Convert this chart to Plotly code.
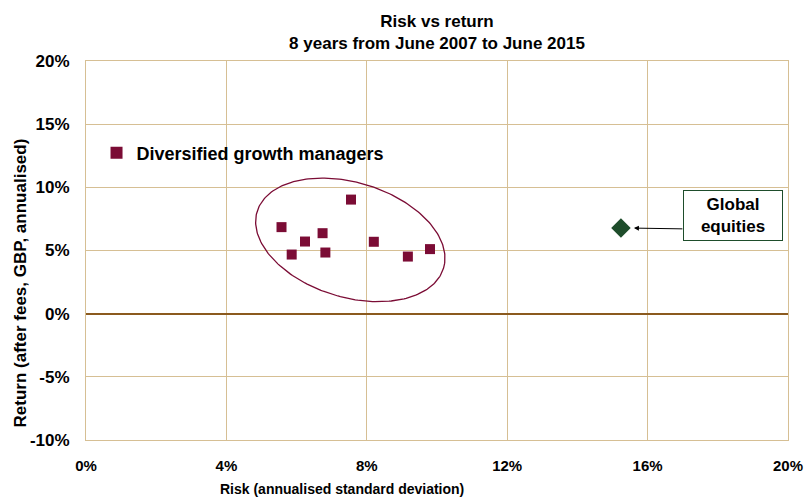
import numpy as np
import plotly.graph_objects as go

# Data (risk %, return %)
dgm_risk = [5.57, 5.86, 6.24, 6.74, 6.82, 7.55, 8.20, 9.17, 9.80]
dgm_return = [6.85, 4.68, 5.71, 6.37, 4.84, 9.03, 5.69, 4.52, 5.11]
eq_risk = [15.24]
eq_return = [6.79]
x_ticks = [0, 4, 8, 12, 16, 20]
y_ticks = [-10, -5, 0, 5, 10, 15, 20]

# Ellipse annotation: center (data units), semi-axes (px) and tilt
ell_cx, ell_cy = 7.53, 5.84
ell_a, ell_b = 97.5, 57.4
ell_ang = np.deg2rad(16.95)
PX_PER_X = 702.6 / 20
PX_PER_Y = 379.3 / 30

t = np.linspace(0, 2 * np.pi, 240)
px_x = ell_a * np.cos(ell_ang) * np.cos(t) - ell_b * np.sin(ell_ang) * np.sin(t)
px_y = ell_a * np.sin(ell_ang) * np.cos(t) + ell_b * np.cos(ell_ang) * np.sin(t)
ex = ell_cx + px_x / PX_PER_X
ey = ell_cy - px_y / PX_PER_Y

FONT = "Liberation Sans, Arial, sans-serif"
GRID = "#D6BF94"

fig = go.Figure()
fig.add_trace(go.Scatter(x=ex, y=ey, mode="lines", line=dict(color="#7B0C35", width=1.3),
                         showlegend=False, hoverinfo="skip"))
fig.add_trace(go.Scatter(x=dgm_risk, y=dgm_return, mode="markers",
                         name="<b>Diversified growth managers</b>",
                         marker=dict(symbol="square", size=10, color="#7B0C35")))
fig.add_trace(go.Scatter(x=eq_risk, y=eq_return, mode="markers", name="Global equities",
                         showlegend=False,
                         marker=dict(symbol="diamond", size=15, color="#1E4D2B")))

fig.update_layout(
    width=809, height=500,
    margin=dict(l=86, r=21, t=61, b=60),
    paper_bgcolor="white", plot_bgcolor="white",
    font=dict(family=FONT, size=16, color="black"),
    title=dict(text="<b>Risk vs return<br>8 years from June 2007 to June 2015</b>",
               x=0.5, xref="paper", y=0.946, yanchor="top",
               font=dict(size=17, family=FONT)),
    showlegend=True,
    legend=dict(x=0.015, y=0.757, xanchor="left", yanchor="middle",
                bgcolor="rgba(0,0,0,0)", font=dict(size=18, family=FONT),
                itemsizing="constant", itemwidth=30),
    xaxis=dict(range=[0, 20], tickvals=x_ticks, ticktext=[f"<b>{v}%</b>" for v in x_ticks],
               showgrid=True, gridcolor=GRID, gridwidth=1, automargin=False,
               showline=True, linecolor=GRID, mirror=True, zeroline=False,
               ticks="", ticklabelstandoff=12, tickfont=dict(size=15, family=FONT)),
    yaxis=dict(range=[-10, 20], tickvals=y_ticks, ticktext=[f"<b>{v}%</b>" for v in y_ticks],
               showgrid=True, gridcolor=GRID, gridwidth=1, automargin=False,
               showline=True, linecolor=GRID, mirror=True,
               zeroline=True, zerolinecolor="#8B5A1E", zerolinewidth=2,
               ticks="", ticklabelstandoff=12, tickfont=dict(size=17, family=FONT)),
)

fig.add_annotation(x=-0.093, y=0.415, xref="paper", yref="paper", textangle=-90,
                   xanchor="center", yanchor="middle",
                   text="<b>Return (after fees, GBP, annualised)</b>", showarrow=False,
                   font=dict(size=17, family=FONT))
fig.add_annotation(x=0.365, y=-0.128, xref="paper", yref="paper",
                   xanchor="center", yanchor="middle",
                   text="<b>Risk (annualised standard deviation)</b>", showarrow=False,
                   font=dict(size=14, family=FONT))
fig.add_annotation(x=18.43, y=7.74, text="<b>Global<br>equities</b>", showarrow=False,
                   bordercolor="#1E4D2B", borderwidth=1, borderpad=4, bgcolor="white",
                   width=90, font=dict(size=17, family=FONT))
fig.add_annotation(x=eq_risk[0], y=eq_return[0], text="", showarrow=True,
                   ax=63, ay=1, arrowhead=2, arrowsize=1, arrowwidth=1, standoff=13,
                   arrowcolor="black")

fig.write_html("out.html", config={"displayModeBar": False},
               post_script="document.body.style.margin='0';")
